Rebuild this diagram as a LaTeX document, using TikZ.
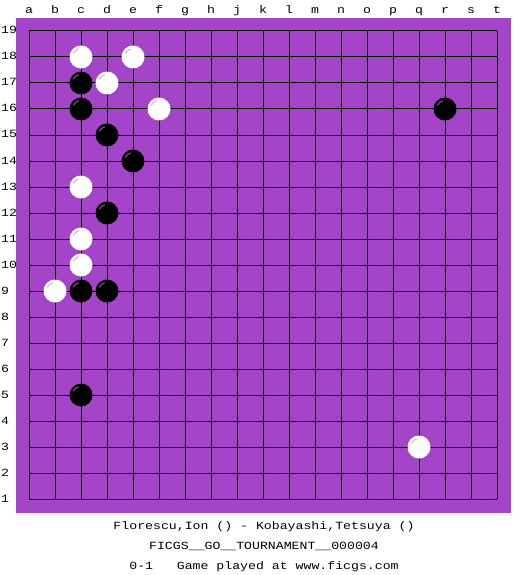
\documentclass[tikz,border=0pt]{standalone}
\usepackage{fontspec}
\newfontfamily\monof[FakeStretch=1.2]{Liberation Mono}
\definecolor{board}{RGB}{164,68,200}
\definecolor{whl}{RGB}{190,190,190}
\definecolor{bhl}{RGB}{110,110,110}
\begin{document}
\begin{tikzpicture}[x=1pt,y=-1pt,
  gridline/.style={black,line width=1pt},
  lab/.style={inner sep=0pt,font=\monof\fontsize{11}{13}\selectfont},
  caption/.style={inner sep=0pt,anchor=base,font=\monof\fontsize{11}{13}\selectfont},
  wstone/.style={fill=white},
  bstone/.style={fill=black},
  whigh/.style={draw=whl,line width=1pt},
  bhigh/.style={draw=bhl,line width=1pt}]
\useasboundingbox (0,0) rectangle (525,575);
\fill[white] (0,0) rectangle (525,575);
\fill[board] (16,18) rectangle (511,513);
\foreach \i in {0,...,18} {
  \draw[gridline] (29+26*\i,31) -- (29+26*\i,499);
  \draw[gridline] (29,31+26*\i) -- (497,31+26*\i);
}
\foreach \l [count=\i from 0] in {a,b,c,d,e,f,g,h,j,k,l,m,n,o,p,q,r,s,t}
  \node[lab,anchor=base] (col\i) at (29+26*\i,14) {\l};
\foreach \n in {1,...,19}
  \node[lab,anchor=base west] (row\n) at (1,34+26*19-26*\n) {\n};
% white stones
\foreach \c/\r in {2/18,4/18,3/17,5/16,2/13,2/11,2/10,1/9,15/3} {
  \fill[wstone] (29+26*\c,31+26*19-26*\r) circle[radius=11.5];
  \draw[whigh] (29+26*\c,31+26*19-26*\r) ++(205:8.5) arc[start angle=205,end angle=255,radius=8.5];
}
% black stones
\foreach \c/\r in {2/17,2/16,16/16,3/15,4/14,3/12,2/9,3/9,2/5} {
  \fill[bstone] (29+26*\c,31+26*19-26*\r) circle[radius=11.5];
  \draw[bhigh] (29+26*\c,31+26*19-26*\r) ++(205:8.5) arc[start angle=205,end angle=255,radius=8.5];
}
\node[caption] (l1) at (264,529.5) {Florescu,Ion () - Kobayashi,Tetsuya ()};
\node[caption] (l2) at (264,549) {FICGS\_\_GO\_\_TOURNAMENT\_\_000004};
\node[caption] (l3) at (264,569) {0-1\ \ \ Game played at www.ficgs.com};
\end{tikzpicture}
\end{document}
